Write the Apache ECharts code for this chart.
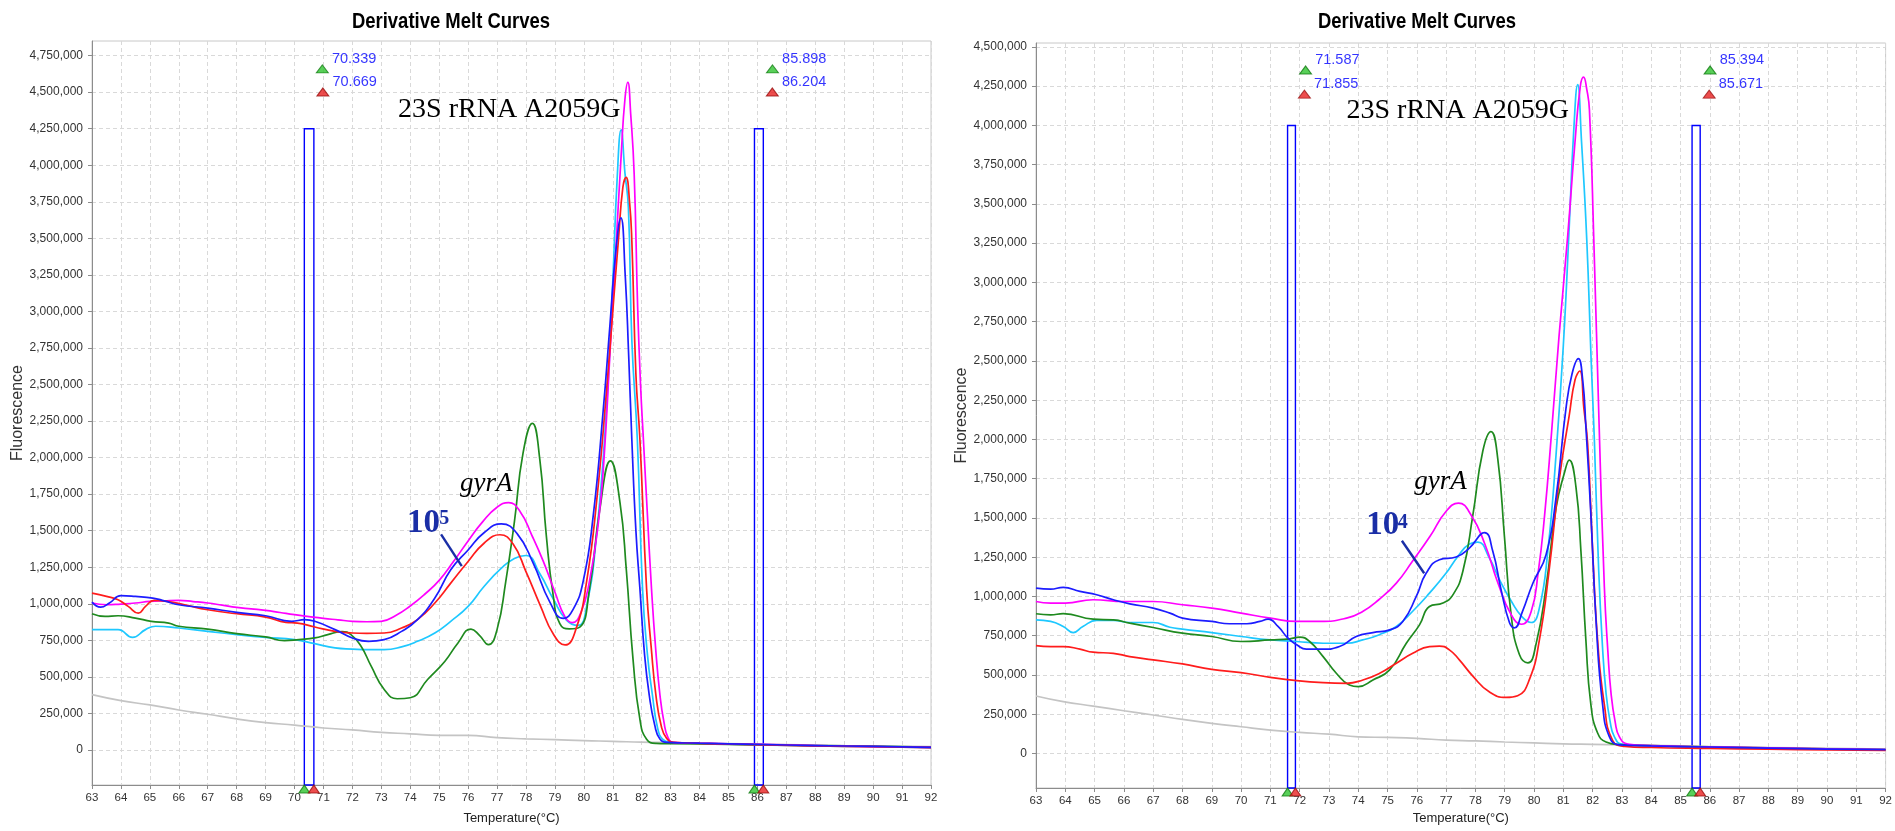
<!DOCTYPE html>
<html>
<head>
<meta charset="utf-8">
<title>Derivative Melt Curves</title>
<script src="https://cdn.jsdelivr.net/npm/echarts@6/dist/echarts.min.js"></script>
<style>
  html, body { margin: 0; padding: 0; background: #ffffff; }
  #chart { width: 1895px; height: 831px; }
</style>
</head>
<body>
<div id="chart"></div>
<script>
// ---------------- Tick values ----------------
const leftTicksY = [0, 250000, 500000, 750000, 1000000, 1250000, 1500000, 1750000, 2000000,
  2250000, 2500000, 2750000, 3000000, 3250000, 3500000, 3750000, 4000000, 4250000, 4500000, 4750000];
const rightTicksY = [0, 250000, 500000, 750000, 1000000, 1250000, 1500000, 1750000, 2000000,
  2250000, 2500000, 2750000, 3000000, 3250000, 3500000, 3750000, 4000000, 4250000, 4500000];
const tempRange = [63, 92];

// ---------------- Melt region markers (°C) ----------------
const leftGreenMarks = [70.339, 85.898];
const leftRedMarks = [70.669, 86.204];
const rightGreenMarks = [71.587, 85.394];
const rightRedMarks = [71.855, 85.671];
const leftBoxTop = 4250000;
const rightBoxTop = 4000000;

// ---------------- Left panel curves: [temperature, -dF/dT] ----------------
const leftMagenta = [[63,1005000],[63.5,993000],[64,998000],[64.5,1005000],[65,1016000],[65.5,1020000],[66,1023000],
  [66.5,1015000],[67,1005000],[67.5,990000],[68,975000],[68.5,965000],[69,955000],[69.5,940000],[70,925000],
  [70.5,912000],[71,900000],[71.5,890000],[72,880000],[72.5,877000],[73,880000],[73.5,920000],[74,985000],
  [74.5,1065000],[75,1160000],[75.5,1290000],[76,1430000],[76.5,1560000],[77,1660000],[77.4,1692000],
  [77.8,1630000],[78.2,1470000],[78.6,1290000],[79,1080000],[79.35,910000],[79.6,871000],[79.9,940000],
  [80.2,1160000],[80.5,1550000],[80.7,2000000],[80.9,2700000],[81.1,3400000],[81.3,4100000],[81.42,4450000],
  [81.52,4567000],[81.62,4350000],[81.74,3940000],[81.86,3030000],[81.96,2500000],[82.06,2120000],
  [82.2,1600000],[82.34,1100000],[82.48,700000],[82.63,377000],[82.77,190000],[82.91,85000],[83.1,52000],
  [84,46000],[86,38000],[88,30000],[90,23000],[92,17000]];

const leftRed = [[63,1073000],[63.5,1050000],[63.9,1027000],[64.25,982000],[64.6,936000],[64.85,982000],
  [65.15,1023000],[65.6,1016000],[66.2,993000],[67,959000],[68,932000],[69,909000],[69.7,873000],[70.1,868000],
  [70.7,841000],[71.4,811000],[72,800000],[72.5,798000],[73.1,800000],[73.7,834000],[74.25,891000],
  [74.85,1005000],[75.4,1141000],[76,1289000],[76.55,1414000],[77.1,1472000],[77.55,1410000],[78,1220000],
  [78.5,986000],[78.95,791000],[79.35,718000],[79.75,840000],[80.1,1156000],[80.45,1716000],[80.78,2446000],
  [81,3000000],[81.2,3500000],[81.35,3850000],[81.46,3917000],[81.58,3750000],[81.66,3480000],[81.8,2570000],
  [81.94,2120000],[82.17,1100000],[82.33,700000],[82.49,377000],[82.68,160000],[82.86,80000],[83.1,52000],
  [84,45000],[86,36000],[88,28000],[90,22000],[92,16000]];

const leftBlue = [[63,1011000],[63.3,977000],[63.6,1005000],[64,1055000],[64.5,1050000],[65.1,1039000],
  [65.5,1020000],[66,993000],[67,970000],[68,941000],[69,918000],[69.9,880000],[70.35,891000],[70.7,880000],
  [71.4,823000],[72,766000],[72.55,743000],[73.1,755000],[73.7,811000],[74.25,891000],[74.85,1039000],
  [75.4,1232000],[76,1368000],[76.55,1486000],[77.15,1546000],[77.7,1478000],[78.25,1278000],[78.83,1010000],
  [79.29,900000],[79.63,961000],[79.98,1156000],[80.32,1594000],[80.67,2324000],[80.9,2900000],[81.1,3400000],
  [81.28,3640000],[81.43,3250000],[81.55,2700000],[81.66,2120000],[81.8,1500000],[81.94,1100000],
  [82.1,650000],[82.26,377000],[82.45,170000],[82.63,75000],[82.9,52000],[84,46000],[86,38000],[88,30000],
  [90,24000],[92,17000]];

const leftCyan = [[63,823000],[63.9,823000],[64.4,770000],[64.85,823000],[65.2,846000],[66,834000],[67,811000],
  [68,789000],[69,770000],[70,755000],[70.7,727000],[71.4,698000],[72,690000],[72.55,686000],[73.1,686000],
  [73.7,705000],[74.25,743000],[74.85,800000],[75.4,880000],[76,982000],[76.55,1118000],[77.15,1243000],
  [77.6,1310000],[78,1330000],[78.48,1205000],[78.94,1034000],[79.4,888000],[79.8,852000],[80.1,986000],
  [80.44,1473000],[80.78,2324000],[81,3200000],[81.15,3900000],[81.29,4242000],[81.42,3950000],
  [81.54,3710000],[81.66,2800000],[81.85,2120000],[82.03,1100000],[82.2,650000],[82.37,377000],
  [82.55,150000],[82.74,70000],[83,52000],[84,44000],[86,35000],[88,28000],[90,22000],[92,16000]];

const leftGreen = [[63,932000],[63.45,914000],[63.9,918000],[64.5,902000],[65.05,880000],[65.65,868000],
  [66,846000],[67,827000],[68,795000],[69,773000],[69.65,748000],[70.15,755000],[70.7,766000],[71.15,789000],
  [71.65,809000],[71.95,789000],[72.3,709000],[72.65,573000],[73.1,414000],[73.55,350000],[74,357000],
  [74.6,482000],[75.2,607000],[75.65,732000],[76.1,827000],[76.4,782000],[76.7,720000],[77,823000],
  [77.3,1150000],[77.6,1560000],[77.9,2032000],[78.22,2234000],[78.48,1984000],[78.7,1473000],[78.94,1059000],
  [79.17,864000],[79.5,828000],[79.86,840000],[80.2,1107000],[80.55,1643000],[80.92,1978000],[81.25,1692000],
  [81.47,1229000],[81.7,621000],[81.94,207000],[82.17,73000],[82.5,45000],[83,43000],[85,38000],[87,32000],
  [89,27000],[92,20000]];

const leftGray = [[63,378000],[64,337000],[65,308000],[66,273000],[67,244000],[68,212000],[69,187000],
  [70,170000],[71,150000],[72,137000],[73,120000],[74,110000],[75,99000],[76,100000],[77,84000],[78,76000],
  [79,70000],[80,63000],[81,59000],[82,53000],[83,50000],[85,44000],[87,37000],[89,30000],[92,22000]];

// ---------------- Right panel curves ----------------
const rightMagenta = [[63,968000],[63.5,958000],[64,958000],[64.95,979000],[66,968000],[67,968000],[68,947000],
  [69,926000],[70,894000],[71,862000],[71.9,841000],[72.7,841000],[73.6,862000],[74.15,904000],[74.7,979000],
  [75.3,1085000],[75.85,1224000],[76.45,1383000],[77,1543000],[77.42,1594000],[77.86,1516000],[78.32,1334000],
  [78.77,1084000],[79.23,880000],[79.57,823000],[79.9,902000],[80.14,1152000],[80.36,1516000],[80.6,2050000],
  [80.85,2650000],[81.15,3300000],[81.4,3900000],[81.58,4250000],[81.69,4308000],[81.8,4230000],
  [81.89,4100000],[82.04,3270000],[82.22,2100000],[82.4,1060000],[82.52,650000],[82.63,380000],
  [82.77,200000],[82.91,107000],[83.2,60000],[84,50000],[86,42000],[88,36000],[90,30000],[92,25000]];

const rightRed = [[63,687000],[63.5,681000],[63.93,681000],[64.5,664000],[64.95,645000],[65.64,638000],
  [66.2,617000],[67,596000],[68,570000],[69,536000],[70,515000],[71,485000],[71.9,464000],[72.8,451000],
  [73.6,447000],[74.16,468000],[74.73,511000],[75.3,575000],[75.86,638000],[76.43,681000],[76.77,684000],
  [77.11,660000],[77.45,596000],[77.91,493000],[78.48,391000],[79.05,357000],[79.44,368000],[79.84,470000],
  [80.18,720000],[80.52,1175000],[80.86,1743000],[81.2,2152000],[81.4,2380000],[81.56,2436000],[81.7,2200000],
  [81.83,1970000],[82,1290000],[82.17,720000],[82.4,311000],[82.68,84000],[83.1,45000],[84,38000],[86,32000],
  [88,27000],[90,23000],[92,20000]];

const rightBlue = [[63,1053000],[63.5,1047000],[63.93,1058000],[64.5,1032000],[65.07,1011000],[65.64,979000],
  [66.2,953000],[67,926000],[67.57,894000],[68,862000],[69,841000],[69.6,826000],[70.2,826000],[70.64,841000],
  [70.92,855000],[71.26,809000],[71.6,734000],[71.9,692000],[72.23,664000],[72.8,664000],[73.36,681000],
  [73.93,745000],[74.5,770000],[75.07,787000],[75.52,841000],[75.98,1000000],[76.32,1149000],[76.77,1234000],
  [77.34,1251000],[77.8,1310000],[78.31,1407000],[78.59,1289000],[78.88,1039000],[79.16,834000],
  [79.33,800000],[79.6,902000],[79.96,1084000],[80.41,1266000],[80.75,1630000],[81.09,2198000],[81.3,2420000],
  [81.51,2515000],[81.66,2380000],[81.77,2080000],[81.94,1520000],[82.12,835000],[82.34,311000],
  [82.57,107000],[82.9,55000],[84,48000],[86,41000],[88,34000],[90,28000],[92,24000]];

const rightCyan = [[63,851000],[63.5,841000],[63.93,809000],[64.27,770000],[64.6,809000],[65.07,847000],
  [65.65,847000],[66.2,834000],[67,834000],[67.57,804000],[68,792000],[69,770000],[70,745000],[71,723000],
  [71.9,713000],[72.8,702000],[73.6,702000],[74.15,723000],[74.7,755000],[75.3,809000],[75.85,904000],
  [76.43,1021000],[77,1149000],[77.4,1255000],[77.8,1334000],[78.08,1346000],[78.48,1243000],[78.82,1107000],
  [79.22,971000],[79.6,868000],[79.9,834000],[80.18,925000],[80.47,1289000],[80.75,1900000],[81,2600000],
  [81.2,3350000],[81.35,3950000],[81.49,4260000],[81.62,3900000],[81.8,3270000],[81.95,2500000],
  [82.06,1990000],[82.2,1200000],[82.33,700000],[82.46,380000],[82.6,200000],[82.74,107000],[83,60000],
  [84,48000],[86,40000],[88,33000],[90,28000],[92,22000]];

const rightGreen = [[63,890000],[63.5,883000],[63.93,890000],[64.95,855000],[65.64,851000],[66.2,830000],
  [67,802000],[68,766000],[69,745000],[70,713000],[71,723000],[71.66,730000],[72,741000],[72.34,713000],
  [72.8,617000],[73.25,511000],[73.7,436000],[74,426000],[74.5,468000],[75.07,532000],[75.64,702000],
  [76.09,819000],[76.43,936000],[76.89,958000],[77.23,1010000],[77.57,1160000],[77.91,1516000],[78.25,1925000],
  [78.53,2050000],[78.76,1880000],[78.99,1380000],[79.22,880000],[79.5,630000],[79.79,577000],[80.07,698000],
  [80.41,1061000],[80.75,1562000],[81.04,1789000],[81.2,1868000],[81.43,1698000],[81.6,1289000],
  [81.77,720000],[81.94,311000],[82.17,130000],[82.46,73000],[82.9,57000],[84,50000],[86,42000],[88,36000],
  [90,30000],[92,25000]];

const rightGray = [[63,366000],[63.93,330000],[64.95,302000],[66,272000],[67,245000],[68,217000],[69,192000],
  [70,170000],[71,149000],[72,134000],[73,123000],[74,106000],[75,102000],[76,96000],[77,85000],[78,80000],
  [79,73000],[80,67000],[81,61000],[82,58000],[83,55000],[85,48000],[87,41000],[89,35000],[92,28000]];

// ---------------- Annotation anchors, in data units [°C, value] ----------------
const leftTargetAt = [73.58, 4378000];
const rightTargetAt = [73.6, 4092000];
const leftGeneAt = [75.72, 1819000];
const rightGeneAt = [75.91, 1729000];
const leftCopyAt = [73.89, 1546000];
const leftCopyExpAt = [75.0, 1580000];
const rightCopyAt = [74.27, 1449000];
const rightCopyExpAt = [75.35, 1470000];
const leftPointer = [[75.066, 1475000], [75.78, 1258000]];
const rightPointer = [[75.49, 1355000], [76.25, 1148000]];
// marker handle heights near the top of each plot
const leftHandleY = [4659000, 4501000];
const rightHandleY = [4353000, 4199000];

// ---------------- Styling ----------------
const SANS = '"Liberation Sans", Arial, sans-serif';
const SERIF = '"Liberation Serif", "Times New Roman", serif';
const NOTE_BLUE = '#1a2ea6';
const curveColors = { magenta: '#ff00ff', red: '#ff1c1c', blue: '#1c1cff', cyan: '#1ec8ff', green: '#1f8a1f', gray: '#c4c4c4' };

const panels = [
  {
    grid: { left: 92, top: 41, width: 839, height: 744 },
    yMin: -240000, yMax: 4850000, yTicks: leftTicksY, nameGapX: 27,
    curves: { gray: leftGray, cyan: leftCyan, green: leftGreen, magenta: leftMagenta, red: leftRed, blue: leftBlue },
    green: leftGreenMarks, red: leftRedMarks, boxTop: leftBoxTop, handleY: leftHandleY
  },
  {
    grid: { left: 1036, top: 43, width: 851, height: 745 },
    yMin: -220000, yMax: 4525000, yTicks: rightTicksY, nameGapX: 24,
    curves: { gray: rightGray, cyan: rightCyan, green: rightGreen, magenta: rightMagenta, red: rightRed, blue: rightBlue },
    green: rightGreenMarks, red: rightRedMarks, boxTop: rightBoxTop, handleY: rightHandleY
  }
];

const chart = echarts.init(document.getElementById('chart'), null, { renderer: 'canvas' });

const grids = [], xAxes = [], yAxes = [], series = [];

function triangle(color, border, value, size, offset, withLabel) {
  const item = {
    value: value,
    symbol: 'triangle',
    symbolSize: size,
    symbolOffset: offset,
    itemStyle: { color: color, borderColor: border, borderWidth: 1 }
  };
  if (withLabel) {
    item.label = {
      show: true, position: 'right', distance: 3, offset: [0, -10],
      formatter: (p) => p.value[0].toFixed(3),
      color: '#0000ff', fontSize: 14.5, fontFamily: SANS
    };
  }
  return item;
}

panels.forEach((p, i) => {
  grids.push(Object.assign({ show: true, borderColor: '#c8c8c8', borderWidth: 1, backgroundColor: '#ffffff' }, p.grid));

  xAxes.push({
    type: 'value', gridIndex: i, min: tempRange[0], max: tempRange[1], interval: 1,
    name: 'Temperature(°C)', nameLocation: 'middle', nameGap: p.nameGapX,
    nameTextStyle: { fontFamily: SANS, fontSize: 13, color: '#222' },
    axisLine: { show: true, onZero: false, lineStyle: { color: '#8c8c8c', width: 1 } },
    axisTick: { show: true, length: 4, lineStyle: { color: '#8c8c8c' } },
    axisLabel: { fontFamily: SANS, fontSize: 11.5, color: '#333', margin: 7 },
    splitLine: { show: true, lineStyle: { color: '#d9d9d9', type: [4, 3], width: 1 } }
  });

  yAxes.push({
    type: 'value', gridIndex: i, min: p.yMin, max: p.yMax,
    name: 'Fluorescence', nameLocation: 'middle', nameGap: 66,
    nameTextStyle: { fontFamily: SANS, fontSize: 16, color: '#333' },
    axisLine: { show: true, onZero: false, lineStyle: { color: '#8c8c8c', width: 1 } },
    axisTick: { show: true, length: 4, customValues: p.yTicks, lineStyle: { color: '#8c8c8c' } },
    axisLabel: {
      customValues: p.yTicks, fontFamily: SANS, fontSize: 12, color: '#333', margin: 9,
      formatter: (v) => Number(v).toLocaleString('en-US')
    },
    splitLine: { show: true, lineStyle: { color: '#d9d9d9', type: [4, 3], width: 1 } }
  });

  Object.keys(p.curves).forEach((key) => {
    series.push({
      type: 'line', name: key, xAxisIndex: i, yAxisIndex: i,
      data: p.curves[key], showSymbol: false, smooth: 0.5,
      lineStyle: { color: curveColors[key], width: 1.7 },
      silent: true, z: 3
    });
  });

  // melt-region boxes, axis handles and labelled handles at the top
  const marks = [];
  p.green.forEach((g, k) => {
    const r = p.red[k];
    marks.push(triangle('#2fc42f', '#137a13', [g, p.yMin], [11, 8], [0, 4], false));
    marks.push(triangle('#e82222', '#9a1010', [r, p.yMin], [11, 8], [0, 4], false));
    marks.push(triangle('#2fc42f', '#137a13', [g, p.handleY[0]], [12, 8], [18, 0], true));
    marks.push(triangle('#e82222', '#9a1010', [r, p.handleY[1]], [12, 8], [9, 0], true));
  });

  series.push({
    type: 'scatter', name: 'marks' + i, xAxisIndex: i, yAxisIndex: i,
    clip: false, silent: true, z: 6, data: marks,
    markArea: {
      silent: true,
      itemStyle: { color: 'rgba(0,0,0,0)', borderColor: '#0000ff', borderWidth: 1.4 },
      data: p.green.map((g, k) => [{ coord: [g, p.yMin] }, { coord: [p.red[k], p.boxTop] }])
    }
  });
});

chart.setOption({
  animation: false,
  backgroundColor: '#ffffff',
  grid: grids,
  xAxis: xAxes,
  yAxis: yAxes,
  series: series
});

// ---------------- Titles and annotations ----------------
function at(gridIndex, pt) { return chart.convertToPixel({ gridIndex: gridIndex }, pt); }

function text(pos, str, font, fill, align, scaleX) {
  return {
    type: 'text', x: pos[0], y: pos[1], scaleX: scaleX || 1, silent: true, z: 20,
    style: { text: str, font: font, fill: fill, align: align || 'left', verticalAlign: 'middle' }
  };
}

function pointer(gridIndex, pts) {
  const a = at(gridIndex, pts[0]), b = at(gridIndex, pts[1]);
  return {
    type: 'line', silent: true, z: 20,
    shape: { x1: a[0], y1: a[1], x2: b[0], y2: b[1] },
    style: { stroke: NOTE_BLUE, lineWidth: 2.4 }
  };
}

const graphics = [
  text([451, 22], 'Derivative Melt Curves', 'bold 22px ' + SANS, '#000', 'center', 0.84),
  text([1417, 22], 'Derivative Melt Curves', 'bold 22px ' + SANS, '#000', 'center', 0.84),

  text(at(0, leftTargetAt), '23S rRNA A2059G', '28px ' + SERIF, '#000'),
  text(at(1, rightTargetAt), '23S rRNA A2059G', '28px ' + SERIF, '#000'),

  text(at(0, leftGeneAt), 'gyrA', 'italic 27px ' + SERIF, '#000'),
  text(at(1, rightGeneAt), 'gyrA', 'italic 27px ' + SERIF, '#000'),

  text(at(0, leftCopyAt), '10', 'bold 33px ' + SERIF, NOTE_BLUE),
  text(at(0, leftCopyExpAt), '5', 'bold 20px ' + SERIF, NOTE_BLUE),
  text(at(1, rightCopyAt), '10', 'bold 33px ' + SERIF, NOTE_BLUE),
  text(at(1, rightCopyExpAt), '4', 'bold 20px ' + SERIF, NOTE_BLUE),

  pointer(0, leftPointer),
  pointer(1, rightPointer)
];

chart.setOption({ graphic: graphics });
</script>
</body>
</html>
